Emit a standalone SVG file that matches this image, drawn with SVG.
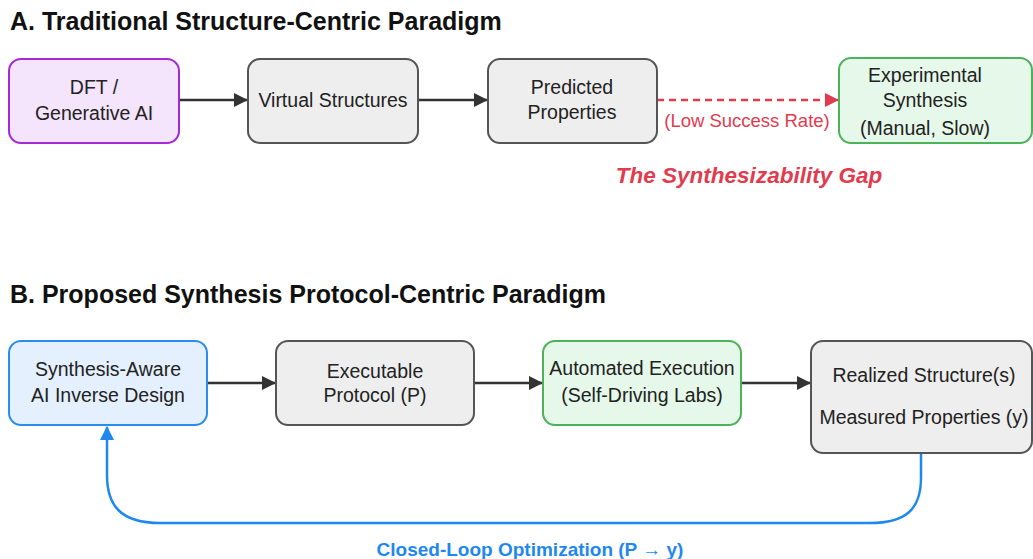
<svg xmlns="http://www.w3.org/2000/svg" width="1033" height="559" viewBox="0 0 1033 559">
<style>
text{font-family:"Liberation Sans",Arial,sans-serif;}
.t{font-size:19.5px;fill:#222;text-anchor:middle;}
.h{font-size:25px;font-weight:bold;fill:#111;}
.box{stroke-width:2;}
.grey{fill:#eeeeee;stroke:#555555;}
.purple{fill:#f4e4fc;stroke:#a42ad8;}
.green{fill:#e5f8e9;stroke:#4cb35a;}
.blue{fill:#e4f0fd;stroke:#2b8cf0;}
.ar{stroke:#333;stroke-width:2.5;fill:none;}
</style>
<defs>
<marker id="mk" markerWidth="14" markerHeight="14" refX="13" refY="7" orient="auto" markerUnits="userSpaceOnUse" viewBox="0 0 14 14"><path d="M0,0 L14,7 L0,14 z" fill="#333"/></marker>
<marker id="mr" markerWidth="14" markerHeight="14" refX="13" refY="7" orient="auto" markerUnits="userSpaceOnUse" viewBox="0 0 14 14"><path d="M0,0 L14,7 L0,14 z" fill="#e23b4e"/></marker>
<marker id="mb" markerWidth="14" markerHeight="14" refX="13" refY="7" orient="auto" markerUnits="userSpaceOnUse" viewBox="0 0 14 14"><path d="M0,0 L14,7 L0,14 z" fill="#1e88f0"/></marker>
</defs>
<rect width="1033" height="559" fill="#ffffff"/>
<text class="h" x="10" y="30">A. Traditional Structure-Centric Paradigm</text>
<text class="h" x="10" y="303">B. Proposed Synthesis Protocol-Centric Paradigm</text>
<g id="connectors">
<line class="ar" x1="179" y1="100" x2="247" y2="100" marker-end="url(#mk)"/>
<line class="ar" x1="418" y1="100" x2="487" y2="100" marker-end="url(#mk)"/>
<line x1="657" y1="100" x2="838" y2="100" stroke="#e23b4e" stroke-width="2.5" stroke-dasharray="7,5" marker-end="url(#mr)"/>
<text x="747" y="127" font-size="18.5" fill="#e23b4e" text-anchor="middle">(Low Success Rate)</text>
<line class="ar" x1="207" y1="383" x2="275" y2="383" marker-end="url(#mk)"/>
<line class="ar" x1="474" y1="383" x2="542" y2="383" marker-end="url(#mk)"/>
<line class="ar" x1="741" y1="383" x2="810" y2="383" marker-end="url(#mk)"/>
<path d="M921,454 L921,478 C921,510 905,523 870,523 L160,523 C120,523 107,505 107,475 L107,427" fill="none" stroke="#1e88f0" stroke-width="2.5" marker-end="url(#mb)"/>
<text x="530" y="556" font-size="19" font-weight="bold" fill="#1e88f0" text-anchor="middle">Closed-Loop Optimization (P → y)</text>
</g>
<text x="749" y="183" font-size="22.5" font-weight="bold" font-style="italic" fill="#e23b4e" text-anchor="middle">The Synthesizability Gap</text>
<g id="dft"><rect class="box purple" x="9" y="59" width="170" height="84" rx="12"/><text class="t" x="94" y="94">DFT /</text><text class="t" x="94" y="120">Generative AI</text></g>
<g id="virtual"><rect class="box grey" x="248" y="59" width="170" height="84" rx="12"/><text class="t" x="333" y="107">Virtual Structures</text></g>
<g id="predicted"><rect class="box grey" x="488" y="59" width="169" height="84" rx="12"/><text class="t" x="572" y="94">Predicted</text><text class="t" x="572" y="119">Properties</text></g>
<g id="experimental"><rect class="box green" x="839" y="58" width="193" height="85" rx="12"/><text class="t" x="925" y="82">Experimental</text><text class="t" x="925" y="107">Synthesis</text><text class="t" x="925" y="135">(Manual, Slow)</text></g>
<g id="aware"><rect class="box blue" x="9" y="341" width="198" height="84" rx="12"/><text class="t" x="108" y="376">Synthesis-Aware</text><text class="t" x="108" y="402">AI Inverse Design</text></g>
<g id="protocol"><rect class="box grey" x="276" y="341" width="198" height="84" rx="12"/><text class="t" x="375" y="378">Executable</text><text class="t" x="375" y="402">Protocol (P)</text></g>
<g id="automated"><rect class="box green" x="543" y="341" width="198" height="84" rx="12"/><text class="t" x="642" y="375">Automated Execution</text><text class="t" x="642" y="402">(Self-Driving Labs)</text></g>
<g id="realized"><rect class="box grey" x="811" y="341" width="221" height="112" rx="12"/><text class="t" x="924" y="382">Realized Structure(s)</text><text class="t" x="924" y="424">Measured Properties (y)</text></g>
</svg>
